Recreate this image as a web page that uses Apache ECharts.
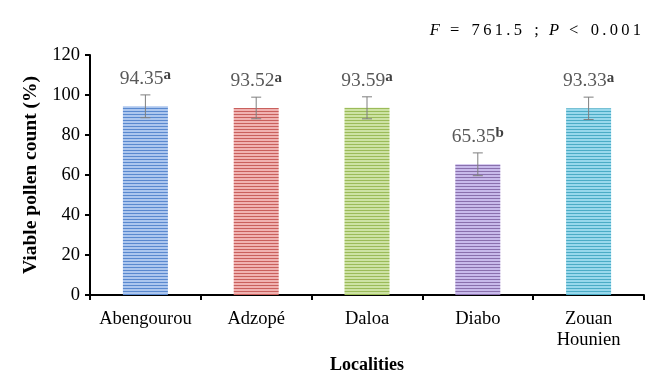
<!DOCTYPE html>
<html>
<head>
<meta charset="utf-8">
<script src="https://cdn.jsdelivr.net/npm/echarts@6/dist/echarts.min.js"></script>
<style>
  html, body { margin: 0; padding: 0; background: #fff; }
  #chart { width: 656px; height: 377px; }
</style>
</head>
<body>
<div id="chart"></div>
<script>
// data
const localities = ['Abengourou', 'Adzopé', 'Daloa', 'Diabo', 'Zouan\nHounien'];
const viable = [94.35, 93.52, 93.59, 65.35, 93.33];
const errors = [5.7, 5.4, 5.5, 5.7, 5.6];
const letters = ['a', 'a', 'a', 'b', 'a'];
const yTicks = [0, 20, 40, 60, 80, 100, 120];

const barColors = [
  ['#5a89cf', '#acc6ee'],
  ['#c9605d', '#f0b2b1'],
  ['#9bbb59', '#cde2a4'],
  ['#8a70ad', '#c8baeb'],
  ['#4bacc6', '#98d8ec']
];

// horizontal stripes like the original fill
function stripes(c) {
  const cv = document.createElement('canvas');
  cv.width = 4; cv.height = 3;
  const ctx = cv.getContext('2d');
  ctx.fillStyle = c[1];
  ctx.fillRect(0, 0, 4, 3);
  ctx.fillStyle = c[0];
  ctx.fillRect(0, 0, 4, 1);
  return { image: cv, repeat: 'repeat' };
}

const chart = echarts.init(document.getElementById('chart'), null, { renderer: 'canvas' });

const serif = '"Liberation Serif", "DejaVu Serif", serif';
const ts = '\u2009';

const option = {
  animation: false,
  grid: { left: 90, right: 12, top: 55, bottom: 82, outerBoundsMode: 'none', containLabel: false },
  xAxis: {
    type: 'category',
    data: localities,
    axisLine: { lineStyle: { color: '#000', width: 2 } },
    axisTick: { show: true, length: 5, lineStyle: { color: '#000', width: 2 } },
    axisLabel: { interval: 0, color: '#000', fontFamily: serif, fontSize: 18.5, margin: 14, lineHeight: 21 },
    name: 'Localities',
    nameLocation: 'middle',
    nameGap: 60,
    nameTextStyle: { color: '#000', fontFamily: serif, fontSize: 18, fontWeight: 'bold' }
  },
  yAxis: {
    type: 'value',
    min: yTicks[0],
    max: yTicks[yTicks.length - 1],
    interval: yTicks[1] - yTicks[0],
    splitLine: { show: false },
    axisLine: { show: true, lineStyle: { color: '#000', width: 2 } },
    axisTick: { show: true, length: 5, lineStyle: { color: '#000', width: 2 } },
    axisLabel: { color: '#000', fontFamily: serif, fontSize: 18.5, margin: 10 },
    name: 'Viable pollen count (%)',
    nameLocation: 'middle',
    nameGap: 48,
    nameTextStyle: { color: '#000', fontFamily: serif, fontSize: 19.5, fontWeight: 'bold' }
  },
  series: [
    {
      type: 'bar',
      barWidth: 45,
      data: viable.map((v, i) => ({ value: v, itemStyle: { color: stripes(barColors[i]) } }))
    },
    {
      type: 'custom',
      data: viable.map((v, i) => [i, v, errors[i]]),
      z: 10,
      renderItem: function (params, api) {
        const x = api.coord([api.value(0), 0])[0];
        const top = api.coord([api.value(0), api.value(1) + api.value(2)])[1];
        const bot = api.coord([api.value(0), api.value(1) - api.value(2)])[1];
        const style = { stroke: '#7f7f7f', lineWidth: 1 };
        const i = params.dataIndex;
        return {
          type: 'group',
          children: [
            { type: 'line', shape: { x1: x, y1: top, x2: x, y2: bot }, style: style },
            { type: 'line', shape: { x1: x - 5, y1: top, x2: x + 5, y2: top }, style: style },
            { type: 'line', shape: { x1: x - 5, y1: bot, x2: x + 5, y2: bot }, style: style },
            {
              type: 'text',
              x: x,
              y: top - 5,
              style: {
                text: '{v|' + viable[i].toFixed(2) + '}{s|' + letters[i] + '}',
                align: 'center',
                verticalAlign: 'bottom',
                rich: {
                  v: { fontFamily: serif, fontSize: 19.5, fill: '#595959', lineHeight: 22 },
                  s: { fontFamily: serif, fontSize: 15, fontWeight: 'bold', fill: '#404040', lineHeight: 11, verticalAlign: 'top' }
                }
              }
            }
          ]
        };
      }
    }
  ],
  graphic: [
    {
      type: 'text',
      right: 15,
      top: 22,
      style: {
        text: '{i|F}   {n|=   ' + '761.5'.split('').join(ts) + '   ;}   {i|P}   {n|<   ' + '0.001'.split('').join(ts) + '}',
        rich: {
          i: { fontFamily: serif, fontSize: 16.5, fontStyle: 'italic', fill: '#000' },
          n: { fontFamily: serif, fontSize: 16.5, fill: '#000' }
        }
      }
    }
  ]
};

chart.setOption(option);
</script>
</body>
</html>
